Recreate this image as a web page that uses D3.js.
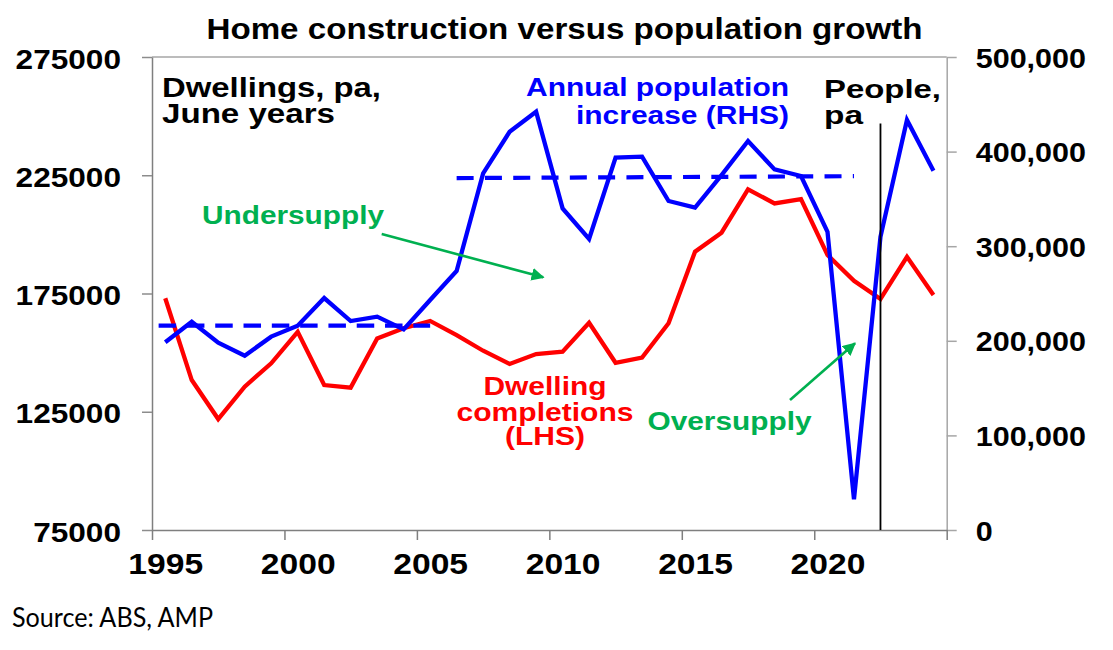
<!DOCTYPE html>
<html>
<head>
<meta charset="utf-8">
<script src="https://cdn.jsdelivr.net/npm/d3@7"></script>
<style>
  html, body { margin: 0; padding: 0; background: #fff; }
  svg { display: block; }
</style>
</head>
<body>
<svg id="chart" width="1113" height="650"></svg>
<script>
// ---------------- DATA ----------------
const years = [1995,1996,1997,1998,1999,2000,2001,2002,2003,2004,2005,2006,2007,2008,2009,
               2010,2011,2012,2013,2014,2015,2016,2017,2018,2019,2020,2021,2022,2023,2024];
// Dwelling completions, LHS
const dwellings = [173000,138400,121900,135600,145500,158800,136300,135200,156000,160300,
                   163400,157400,150800,145200,149400,150400,162600,145700,147900,162400,
                   192700,200700,219000,213100,214900,191300,180400,172700,190500,174400];
// Annual population increase, RHS
const population = [198400,220200,198000,184300,204400,216000,245200,220900,225500,212100,
                    243100,273800,377000,421000,442200,340000,307600,393600,394600,347800,
                    340700,375200,411200,381200,374200,315300,32400,310000,433400,379800];
// Average population increase (dashed), RHS
const avg1Years = [1994.75, 2005];
const avg1Values = [216000, 216000];
const avg2Years = [2006, 2021];
const avg2Values = [372000, 374000];
const markerYear = 2022;

const leftTicks = [75000,125000,175000,225000,275000];
const rightTicks = [0,100000,200000,300000,400000,500000];
const xLabelYears = [1995,2000,2005,2010,2015,2020];
const xTickYears = [1994.5,1999.5,2004.5,2009.5,2014.5,2019.5,2024.5];

// ---------------- LAYOUT ----------------
const svg = d3.select('#chart');
const L = 152, R = 946.7, T = 57, B = 530;
const FONT = "'Liberation Sans', Arial, Helvetica, sans-serif";

const x = d3.scaleLinear().domain([1994.5, 2024.5]).range([L, R]);
const yL = d3.scaleLinear().domain([75000, 275000]).range([B, T]);
const yR = d3.scaleLinear().domain([0, 500000]).range([B, T]);

svg.append('rect').attr('width',1113).attr('height',650).attr('fill','#fff');

// top border
svg.append('line').attr('x1',L).attr('x2',R).attr('y1',T).attr('y2',T)
  .attr('stroke','#a6a6a6').attr('stroke-width',1.5);

function stretch(sel, k) {
  sel.each(function() {
    const w = this.getComputedTextLength();
    d3.select(this).attr('textLength', w * k).attr('lengthAdjust','spacingAndGlyphs');
  });
}

// Left axis
const gL = svg.append('g').attr('transform',`translate(${L},0)`)
  .call(d3.axisLeft(yL).tickValues(leftTicks).tickFormat(d3.format('d')).tickSizeInner(10).tickSizeOuter(0).tickPadding(21));
gL.select('.domain').attr('stroke','#7f7f7f').attr('stroke-width',1.5);
gL.selectAll('.tick line').attr('stroke','#8c8c8c').attr('stroke-width',1.5);
gL.selectAll('.tick text').attr('font-family',FONT).attr('font-weight','bold')
  .attr('font-size',27).attr('fill','#000').attr('dy','0.41em').call(stretch,1.17);

// Right axis
const gR = svg.append('g').attr('transform',`translate(${R},0)`)
  .call(d3.axisRight(yR).tickValues(rightTicks).tickFormat(d3.format(',')).tickSizeInner(10).tickSizeOuter(0).tickPadding(19));
gR.select('.domain').attr('stroke','#a6a6a6').attr('stroke-width',1.5);
gR.selectAll('.tick line').attr('stroke','#a6a6a6').attr('stroke-width',1.5);
gR.selectAll('.tick text').attr('font-family',FONT).attr('font-weight','bold')
  .attr('font-size',28).attr('fill','#000').attr('dy','0.36em').call(stretch,1.09);

// Bottom axis (ticks between categories)
const gB = svg.append('g').attr('transform',`translate(0,${B})`)
  .call(d3.axisBottom(x).tickValues(xTickYears).tickFormat('').tickSizeInner(10).tickSizeOuter(0));
gB.select('.domain').attr('stroke','#7f7f7f').attr('stroke-width',1.5);
gB.selectAll('.tick line').attr('stroke','#7f7f7f').attr('stroke-width',1.5);

// Bottom labels
const gBL = svg.append('g').attr('transform',`translate(0,${B})`)
  .call(d3.axisBottom(x).tickValues(xLabelYears).tickFormat(d3.format('d')).tickSize(0));
gBL.select('.domain').remove();
gBL.selectAll('.tick text').attr('font-family',FONT).attr('font-weight','bold')
  .attr('font-size',30).attr('fill','#000').attr('y',44).attr('dy',0).call(stretch,1.12);

// Lines
const lineL = d3.line().x((d,i)=>x(years[i])).y(d=>yL(d));
const lineR = d3.line().x((d,i)=>x(years[i])).y(d=>yR(d));

svg.append('path').datum(dwellings).attr('d',lineL)
  .attr('fill','none').attr('stroke','#ff0000').attr('stroke-width',4.3).attr('stroke-linejoin','miter');
svg.append('path').datum(population).attr('d',lineR)
  .attr('fill','none').attr('stroke','#0000ff').attr('stroke-width',4.3).attr('stroke-linejoin','miter');

const avgLine = (ys) => d3.line().x((d,i)=>x(ys[i])).y(d=>yR(d));
svg.append('path').datum(avg1Values).attr('d',avgLine(avg1Years))
  .attr('fill','none').attr('stroke','#0000ff').attr('stroke-width',4.2).attr('stroke-dasharray','17.5,10.8');
svg.append('path').datum(avg2Values).attr('d',avgLine(avg2Years))
  .attr('fill','none').attr('stroke','#0000ff').attr('stroke-width',4.2).attr('stroke-dasharray','17,11.3');

// vertical marker line
svg.append('line').attr('x1',x(markerYear)).attr('x2',x(markerYear))
  .attr('y1',123.5).attr('y2',B).attr('stroke','#000').attr('stroke-width',1.8);

// Arrows
const defs = svg.append('defs');
defs.append('marker').attr('id','arr').attr('viewBox','0 0 10 10').attr('refX',9).attr('refY',5)
  .attr('markerWidth',5).attr('markerHeight',5).attr('orient','auto').attr('markerUnits','strokeWidth')
  .append('path').attr('d','M0,0 L10,5 L0,10 Z').attr('fill','#00b050');
svg.append('line').attr('x1',381.7).attr('y1',234).attr('x2',543.3).attr('y2',277.3)
  .attr('stroke','#00b050').attr('stroke-width',2.6).attr('marker-end','url(#arr)');
svg.append('line').attr('x1',790).attr('y1',400).attr('x2',855).attr('y2',343.3)
  .attr('stroke','#00b050').attr('stroke-width',2.6).attr('marker-end','url(#arr)');

// Text annotations (multi-line blocks as one text element with tspans)
function block(lines, xx, size, color, anchor) {
  const el = svg.append('text')
    .attr('font-family',FONT).attr('font-weight','bold').attr('font-size',size)
    .attr('fill',color).attr('text-anchor',anchor);
  lines.forEach(([t, yy, w]) => {
    el.append('tspan').attr('x',xx).attr('y',yy).text(t)
      .attr('textLength',w).attr('lengthAdjust','spacingAndGlyphs');
  });
  return el;
}
block([['Home construction versus population growth', 39, 716]], 564.5, 29.5, '#000', 'middle');
block([['Dwellings, pa,', 97, 219], ['June years', 122.5, 173]], 162, 27.5, '#000', 'start');
block([['Annual population', 96, 263], ['increase (RHS)', 124, 213]], 789, 25, '#0000ff', 'end');
block([['People,', 98.3, 117], ['pa', 124, 39]], 824, 26.5, '#000', 'start');
block([['Undersupply', 224.3, 182]], 202, 26, '#00b050', 'start');
block([['Dwelling', 395, 123], ['completions', 420.7, 177], ['(LHS)', 445, 80]], 545, 25.5, '#ff0000', 'middle');
block([['Oversupply', 430, 164]], 647.5, 25, '#00b050', 'start');

svg.append('text').attr('x',12).attr('y',627).text('Source: ABS, AMP')
  .attr('font-family',"Lato, 'Open Sans', sans-serif").attr('font-size',26).attr('fill','#000')
  .attr('textLength',201).attr('lengthAdjust','spacingAndGlyphs');
</script>
</body>
</html>
